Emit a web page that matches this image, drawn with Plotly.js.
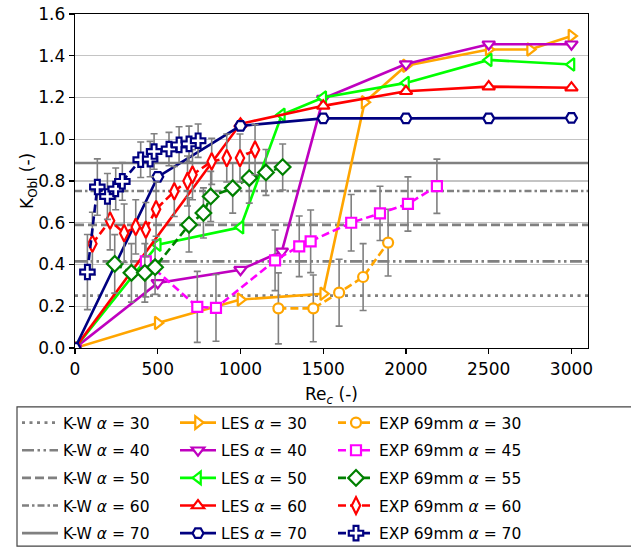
<!DOCTYPE html>
<html>
<head>
<meta charset="utf-8">
<script src="https://cdn.plot.ly/plotly-3.0.1.min.js"></script>
<style>html,body{margin:0;padding:0;background:#fff;}#chart{width:631px;height:548px;}</style>
</head>
<body>
<div id="chart"></div>
<script>
// ---------- data ----------
const xRange = [0, 3100];
const xTicks = [0, 500, 1000, 1500, 2000, 2500, 3000];
const yTicks = [0, 0.2, 0.4, 0.6, 0.8, 1.0, 1.2, 1.4, 1.6];

// K-W model (horizontal levels)
const kwAlpha = [30, 40, 50, 60, 70];
const kwValues = [0.251, 0.415, 0.590, 0.752, 0.886];

// LES
const les30X = [0, 500, 1000, 1500, 1750, 2000, 2500, 2750, 3000];
const les30Y = [0, 0.12, 0.232, 0.26, 1.177, 1.352, 1.43, 1.43, 1.495];
const les40X = [0, 500, 1000, 1250, 1500, 2000, 2500, 3000];
const les40Y = [0, 0.312, 0.375, 0.463, 1.195, 1.36, 1.455, 1.455];
const les50X = [0, 500, 1000, 1250, 1500, 2000, 2500, 3000];
const les50Y = [0, 0.495, 0.578, 1.117, 1.2, 1.27, 1.38, 1.358];
const les60X = [0, 1000, 1500, 2000, 2500, 3000];
const les60Y = [0, 1.074, 1.16, 1.23, 1.252, 1.247];
const les70X = [0, 500, 1000, 1500, 2000, 2500, 3000];
const les70Y = [0, 0.82, 1.064, 1.10, 1.10, 1.10, 1.102];

// EXP 69mm
const exp30X = [1229, 1440, 1596, 1741, 1892];
const exp30Y = [0.19, 0.19, 0.265, 0.34, 0.505];
const exp30E = [0.17, 0.16, 0.16, 0.16, 0.16];

const exp45X = [428, 739, 852, 1209, 1355, 1424, 1669, 1843, 2012, 2187];
const exp45Y = [0.415, 0.197, 0.192, 0.42, 0.487, 0.511, 0.60, 0.645, 0.69, 0.775];
const exp45E = [0.17, 0.17, 0.16, 0.145, 0.145, 0.15, 0.135, 0.13, 0.13, 0.13];

const exp55X = [240, 341, 422, 484, 689, 776, 820, 953, 1053, 1154, 1255];
const exp55Y = [0.403, 0.36, 0.36, 0.387, 0.59, 0.647, 0.726, 0.766, 0.814, 0.841, 0.867];
const exp55E = [0.14, 0.14, 0.14, 0.13, 0.13, 0.12, 0.12, 0.12, 0.12, 0.11, 0.11];

const exp60X = [105, 212, 297, 367, 428, 490, 600, 680, 710, 826, 917, 997, 1088];
const exp60Y = [0.50, 0.61, 0.55, 0.58, 0.567, 0.665, 0.75, 0.80, 0.83, 0.894, 0.91, 0.91, 0.95];
const exp60E = [0.15, 0.14, 0.14, 0.13, 0.13, 0.13, 0.12, 0.12, 0.12, 0.11, 0.115, 0.115, 0.12];

const exp70X = [75, 135, 196, 246, 286, 397, 454, 478, 568, 629, 689, 744];
const exp70Y = [0.364, 0.771, 0.726, 0.762, 0.798, 0.902, 0.905, 0.941, 0.953, 0.973, 0.978, 0.993];
const exp70E = [0.18, 0.135, 0.11, 0.10, 0.09, 0.085, 0.085, 0.085, 0.08, 0.087, 0.085, 0.08];

// ---------- styles ----------
const FONT = 'DejaVu Sans, Liberation Sans, sans-serif';
const GREY = '#808080';
const kwDash = ['3px,4.5px', '12px,3.5px,2.5px,3.5px,2.5px,3.5px', '9px,4px', '7px,3px,2.5px,3px', 'solid'];

const plotL = 75, plotR = 588, plotT = 14, plotB = 348.5;
const W = 631, H = 548;
const px2x = px => (px - plotL) / (plotR - plotL);
const py2y = py => (plotB - py) / (plotB - plotT);
const cx = px => px / W;
const cy = py => 1 - py / H;

const traces = [];
kwAlpha.forEach((a, i) => {
  traces.push({
    x: xRange, y: [kwValues[i], kwValues[i]], mode: 'lines',
    name: 'K-W <i>α</i> = ' + a,
    line: {color: GREY, width: 2.6, dash: kwDash[i]},
    legend: 'legend', legendgroup: 'kw' + a, hoverinfo: 'skip'
  });
});

function les(x, y, a, color, symbol) {
  return {
    x: x, y: y, mode: 'lines+markers', name: 'LES <i>α</i> = ' + a,
    line: {color: color, width: 2.6},
    marker: {symbol: symbol, size: 11, color: 'white', line: {color: color, width: 2.2}},
    legend: 'legend2', legendgroup: 'les' + a
  };
}
traces.push(les(les30X, les30Y, 30, '#FFA500', 'triangle-right'));
traces.push(les(les40X, les40Y, 40, '#BF00BF', 'triangle-down'));
traces.push(les(les50X, les50Y, 50, '#00FF00', 'triangle-left'));
traces.push(les(les60X, les60Y, 60, '#FF0000', 'triangle-up'));
traces.push(les(les70X, les70Y, 70, '#000080', 'hexagon2'));

function exp(x, y, e, a, color, symbol, size) {
  return {
    x: x, y: y, mode: 'lines+markers', name: 'EXP 69mm <i>α</i> = ' + a,
    line: {color: color, width: 2.6, dash: '8px,4px'},
    marker: {symbol: symbol, size: size, color: 'white', line: {color: color, width: 2.2}},
    error_y: {type: 'data', array: e, visible: true, color: GREY, thickness: 1.6, width: 3.5},
    legend: 'legend3', legendgroup: 'exp' + a
  };
}
traces.push(exp(exp30X, exp30Y, exp30E, 30, '#FFA500', 'circle', 10));
traces.push(exp(exp45X, exp45Y, exp45E, 45, '#FF00FF', 'square', 10));
traces.push(exp(exp55X, exp55Y, exp55E, 55, '#008000', 'diamond', 12));
traces.push(exp(exp60X, exp60Y, exp60E, 60, '#FF0000', 'diamond-tall', 12));
traces.push(exp(exp70X, exp70Y, exp70E, 70, '#000080', 'cross', 12));

const legendBase = {
  orientation: 'v', xref: 'container', yref: 'container',
  xanchor: 'left', yanchor: 'top', y: cy(406),
  traceorder: 'grouped', tracegroupgap: 4.5, itemwidth: 36,
  bgcolor: 'rgba(0,0,0,0)', borderwidth: 0,
  font: {family: FONT, size: 15.5, color: '#000'}
};

const layout = {
  width: W, height: H,
  margin: {l: plotL, r: W - plotR, t: plotT, b: H - plotB, autoexpand: false},
  paper_bgcolor: 'white', plot_bgcolor: 'white',
  font: {family: FONT, size: 17, color: '#000'},
  showlegend: true,
  xaxis: {
    range: xRange, tickvals: xTicks, ticks: 'outside', ticklen: 5, tickwidth: 1.2, tickcolor: '#000',
    showline: true, linecolor: '#000', linewidth: 1.3, mirror: true,
    showgrid: false, zeroline: false,
    tickfont: {family: FONT, size: 17, color: '#000'},
    title: {text: 'Re<sub><i>c</i></sub> (-)', font: {family: FONT, size: 17, color: '#000'}, standoff: 10}
  },
  yaxis: {
    range: [0, 1.6], tickvals: yTicks, tickformat: '.1f', ticks: 'outside', ticklen: 5, tickwidth: 1.2, tickcolor: '#000',
    showline: true, linecolor: '#000', linewidth: 1.3, mirror: true,
    showgrid: true, gridcolor: '#c4c4c4', gridwidth: 1.3, zeroline: false,
    tickfont: {family: FONT, size: 17, color: '#000'}
  },
  annotations: [{
    text: 'K<sub>Obl</sub> (-)', textangle: -90, showarrow: false,
    xref: 'paper', yref: 'paper', x: px2x(28), y: 0.5, xanchor: 'center', yanchor: 'middle',
    font: {family: FONT, size: 17, color: '#000'}
  }],
  legend: Object.assign({}, legendBase, {x: cx(17)}),
  legend2: Object.assign({}, legendBase, {x: cx(175)}),
  legend3: Object.assign({}, legendBase, {x: cx(333)}),
  shapes: [{
    type: 'rect', xref: 'paper', yref: 'paper',
    x0: px2x(17), x1: px2x(645), y0: py2y(547), y1: py2y(407.5),
    line: {color: '#444', width: 1.2}, fillcolor: 'rgba(0,0,0,0)', layer: 'above'
  }]
};

Plotly.newPlot('chart', traces, layout, {displayModeBar: false, staticPlot: true});
</script>
</body>
</html>
